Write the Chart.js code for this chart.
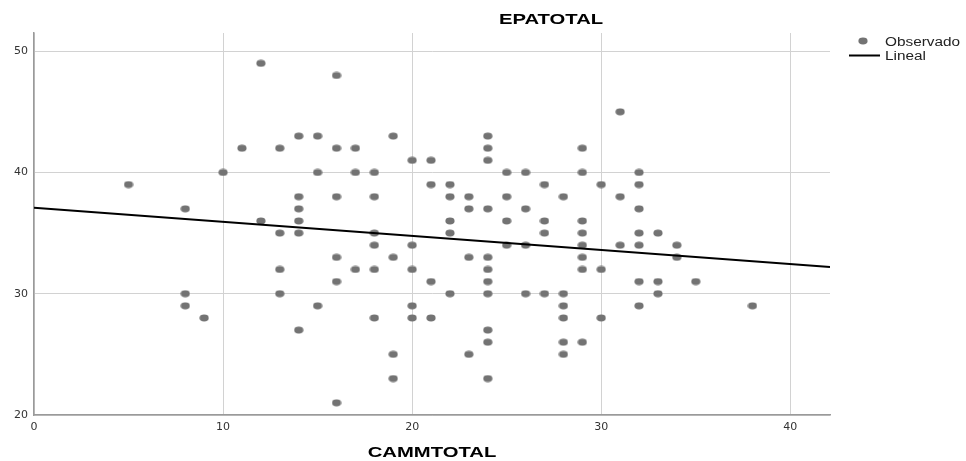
<!DOCTYPE html>
<html lang="es">
<head>
  <meta charset="UTF-8" />
  <title>EPATOTAL</title>
  <script src="https://cdn.jsdelivr.net/npm/chart.js"></script>
  <style>
    html, body { margin: 0; padding: 0; background: #ffffff; }
    #caja { width: 966px; height: 461px; }
  </style>
</head>
<body>
  <div id="caja">
    <canvas id="grafico" width="966" height="461"></canvas>
  </div>

  <script>
    // valores observados (CAMMTOTAL, EPATOTAL)
    var cammTotal = [
      5,
      8, 8, 8,
      9,
      10,
      11,
      12, 12,
      13, 13, 13, 13,
      14, 14, 14, 14, 14, 14,
      15, 15, 15,
      16, 16, 16, 16, 16, 16,
      17, 17, 17,
      18, 18, 18, 18, 18, 18,
      19, 19, 19, 19,
      20, 20, 20, 20, 20,
      21, 21, 21, 21,
      22, 22, 22, 22, 22,
      23, 23, 23, 23,
      24, 24, 24, 24, 24, 24, 24, 24, 24, 24, 24,
      25, 25, 25, 25,
      26, 26, 26, 26,
      27, 27, 27, 27,
      28, 28, 28, 28, 28, 28,
      29, 29, 29, 29, 29, 29, 29, 29,
      30, 30, 30,
      31, 31, 31,
      32, 32, 32, 32, 32, 32, 32,
      33, 33, 33,
      34, 34,
      35,
      38
    ];
    var epaTotal = [
      39,
      37, 30, 29,
      28,
      40,
      42,
      49, 36,
      42, 35, 32, 30,
      43, 38, 37, 36, 35, 27,
      43, 40, 29,
      48, 42, 38, 33, 31, 21,
      42, 40, 32,
      40, 38, 35, 34, 32, 28,
      43, 33, 25, 23,
      41, 34, 32, 29, 28,
      41, 39, 31, 28,
      39, 38, 36, 35, 30,
      38, 37, 33, 25,
      43, 42, 41, 37, 33, 32, 31, 30, 27, 26, 23,
      40, 38, 36, 34,
      40, 37, 34, 30,
      39, 36, 35, 30,
      38, 30, 29, 28, 26, 25,
      42, 40, 36, 35, 34, 33, 32, 26,
      39, 32, 28,
      45, 38, 34,
      40, 39, 37, 35, 34, 31, 29,
      35, 31, 30,
      34, 33,
      31,
      29
    ];

    // recta de ajuste lineal (extremos)
    var linealX = [0, 42.1];
    var linealY = [37.1, 32.2];

    var ticksX = [0, 10, 20, 30, 40];
    var ticksY = [20, 30, 40, 50];

    var tituloGrafico = "EPATOTAL";
    var tituloEjeX = "CAMMTOTAL";
    var nombresSeries = ["Observado", "Lineal"];

    var puntos = [];
    for (var i = 0; i < cammTotal.length; i++) {
      puntos.push({ x: cammTotal[i], y: epaTotal[i] });
    }
    var recta = [];
    for (var k = 0; k < linealX.length; k++) {
      recta.push({ x: linealX[k], y: linealY[k] });
    }

    // punto ovalado como en SPSS
    var marca = document.createElement("canvas");
    marca.width = 10;
    marca.height = 8;
    var mctx = marca.getContext("2d");
    mctx.fillStyle = "#737373";
    mctx.beginPath();
    mctx.ellipse(5, 4, 4.6, 3.4, 0, 0, Math.PI * 2);
    mctx.fill();

    function textoAncho(ctx, texto, x, y, fuente, escala, alinear, color) {
      ctx.save();
      ctx.translate(x, y);
      ctx.scale(escala, 1);
      ctx.font = fuente;
      ctx.fillStyle = color;
      ctx.textAlign = alinear;
      ctx.textBaseline = "middle";
      ctx.fillText(texto, 0, 0);
      ctx.restore();
    }

    const textosExtra = {
      id: "textosExtra",
      afterDraw(chart) {
        const ctx = chart.ctx;
        textoAncho(ctx, tituloGrafico, 551, 20, "bold 15px 'Liberation Sans'", 1.35, "center", "#000");
        textoAncho(ctx, tituloEjeX, 432, 453, "bold 15px 'Liberation Sans'", 1.35, "center", "#000");

        // leyenda
        ctx.save();
        ctx.drawImage(marca, 858, 37);
        ctx.strokeStyle = "#000";
        ctx.lineWidth = 2;
        ctx.beginPath();
        ctx.moveTo(849, 55.5);
        ctx.lineTo(880, 55.5);
        ctx.stroke();
        ctx.restore();
        textoAncho(ctx, nombresSeries[0], 885, 43, "12px 'Liberation Sans'", 1.28, "left", "#222");
        textoAncho(ctx, nombresSeries[1], 885, 57, "12px 'Liberation Sans'", 1.28, "left", "#222");
      }
    };

    function soloTicks(lista) {
      return function (scale) {
        scale.ticks = lista.map(function (v) { return { value: v }; });
      };
    }

    const config = {
      type: "scatter",
      data: {
        datasets: [
          {
            label: nombresSeries[0],
            data: puntos,
            pointStyle: marca,
            pointRadius: 5,
            pointHoverRadius: 5,
            order: 2
          },
          {
            type: "line",
            label: nombresSeries[1],
            data: recta,
            borderColor: "#000000",
            borderWidth: 2,
            pointRadius: 0,
            fill: false,
            tension: 0,
            order: 1
          }
        ]
      },
      options: {
        responsive: false,
        animation: false,
        events: [],
        layout: { padding: { top: 33, right: 136, left: 0, bottom: 0 } },
        plugins: {
          legend: { display: false },
          tooltip: { enabled: false }
        },
        scales: {
          x: {
            type: "linear",
            min: 0,
            max: 42.1,
            afterBuildTicks: soloTicks(ticksX),
            afterFit: function (scale) { scale.height = 46; },
            grid: { color: "#d2d2d2", lineWidth: 1, drawTicks: false },
            border: { color: "#9a9a9a", width: 1.5 },
            ticks: {
              padding: 6,
              color: "#333",
              font: { family: "'DejaVu Sans'", size: 11 },
              maxRotation: 0
            }
          },
          y: {
            type: "linear",
            min: 20,
            max: 51.5,
            afterBuildTicks: soloTicks(ticksY),
            afterFit: function (scale) { scale.width = 34; },
            grid: { color: "#d2d2d2", lineWidth: 1, drawTicks: false },
            border: { color: "#9a9a9a", width: 1.5 },
            ticks: {
              padding: 6,
              color: "#333",
              font: { family: "'DejaVu Sans'", size: 11 }
            }
          }
        }
      },
      plugins: [textosExtra]
    };

    new Chart(document.getElementById("grafico"), config);
  </script>
</body>
</html>
